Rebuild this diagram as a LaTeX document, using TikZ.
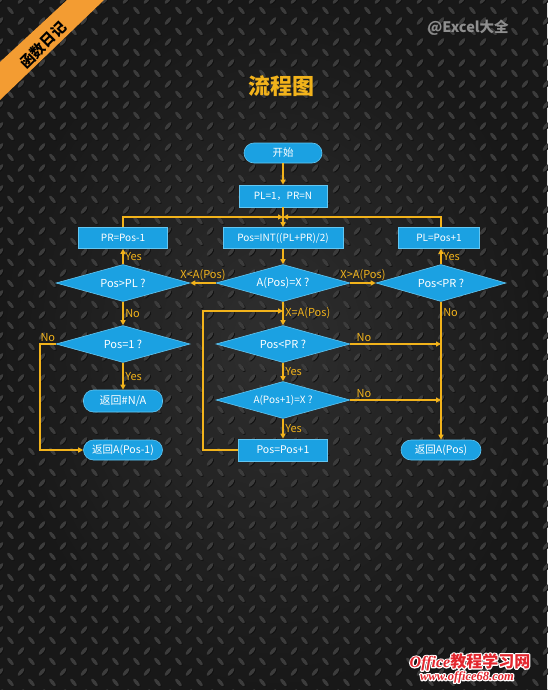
\documentclass[tikz,border=0pt]{standalone}
\usepackage{fontspec}
\setmainfont{Noto Sans CJK SC}
\newfontfamily\wmlatin{Liberation Serif}
\usetikzlibrary{shapes.geometric,arrows.meta,calc}
\definecolor{bgdark}{HTML}{181818}
\definecolor{bgmid}{HTML}{2F2F2F}
\definecolor{platehi}{HTML}{3C3C3C}
\definecolor{plateshade}{HTML}{111111}
\definecolor{flowblue}{HTML}{1BA1E2}
\definecolor{flowedge}{HTML}{62C6F2}
\definecolor{flowline}{HTML}{F2B31B}
\definecolor{bannerorange}{HTML}{F39C32}
\definecolor{wmred}{HTML}{E3262E}
\definecolor{wmgray}{HTML}{8E8E8E}
\newcommand\haloed[1]{\rlap{\special{pdf:literal direct 1 1 1 RG 2.4 w 1 j 1 Tr}#1\special{pdf:literal direct 0 Tr}}#1}

\begin{document}
\begin{tikzpicture}[x=1pt, y=-1pt,
  box/.style={draw=flowedge, line width=0.6pt, fill=flowblue, text=white,
    font=\fontsize{10}{12}\selectfont, inner sep=0pt, minimum height=21pt},
  pill/.style={box, rounded corners=10pt, font=\fontsize{10.5}{12}\selectfont},
  decision/.style={diamond, aspect=3.6, draw=flowedge, line width=0.6pt,
    fill=flowblue, text=white, font=\fontsize{11}{13}\selectfont,
    inner sep=1pt, minimum width=134pt, minimum height=37pt},
  flow/.style={draw=flowline, line width=1.5pt, -{Triangle[length=5pt,width=5pt]}},
  lbl/.style={text=flowline, font=\fontsize{11}{13}\selectfont, inner sep=1.5pt}]
  \useasboundingbox (0,0) rectangle (547,690);
  \shade[inner color=bgmid, outer color=bgdark] (0,0) rectangle (547,690);
  \foreach \i in {0,...,26}
    \foreach \j in {0,...,33} {
      \fill[plateshade, shift={(\i*21+0.8,\j*21+0.8)}, rotate=50] (0,0) ellipse (4.8 and 1.8);
      \fill[platehi, shift={(\i*21,\j*21)}, rotate=50] (0,0) ellipse (4.8 and 1.8);
      \fill[plateshade, shift={(\i*21+11.3,\j*21+11.3)}, rotate=-50] (0,0) ellipse (4.8 and 1.8);
      \fill[platehi, shift={(\i*21+10.5,\j*21+10.5)}, rotate=-50] (0,0) ellipse (4.8 and 1.8);
    }

  \fill[bannerorange] (0,62) -- (67,0) -- (104,0) -- (0,100) -- cycle;
  \node[rotate=45, font=\bfseries\fontsize{14.5}{16}\selectfont, text=black] (banner) at (43,45) {函数日记};
  \node[font=\bfseries\fontsize{14.5}{16}\selectfont, text=wmgray] (excel) at (468,28) {@Excel大全};
  \node[font=\bfseries\fontsize{22}{25}\selectfont, text=flowline] (title) at (281,86) {流程图};

  \coordinate (join) at (283,217);
  \coordinate (noturn) at (40,344);
  \coordinate (loopturn) at (203,311);
  \coordinate (loopin) at (283,311);

  \node[pill, minimum width=78pt, minimum height=20pt] (start) at (283,153) {开始};
  \node[box, minimum width=88pt, minimum height=22pt] (init) at (283,196) {PL=1，PR=N};
  \node[box, minimum width=89pt] (prdec) at (123,238) {PR=Pos-1};
  \node[box, minimum width=120pt] (calc) at (283,238) {Pos=INT((PL+PR)/2)};
  \node[box, minimum width=81pt] (plinc) at (439,238) {PL=Pos+1};
  \node[decision] (gtpl) at (123,283) {Pos>PL ?};
  \node[decision] (check) at (283,283) {A(Pos)=X ?};
  \node[decision, minimum width=130pt] (ltpr) at (441,283) {Pos<PR ?};
  \node[decision] (eqone) at (123,344) {Pos=1 ?};
  \node[decision] (ltprmid) at (283,344) {Pos<PR ?};
  \node[decision, font=\fontsize{10}{12}\selectfont] (nextx) at (283,400) {A(Pos+1)=X ?};
  \node[pill, minimum width=79pt, minimum height=22pt, font=\fontsize{11}{13}\selectfont] (na) at (123,401) {返回\#N/A};
  \node[pill, minimum width=79pt, minimum height=20pt] (retprev) at (123,450) {返回A(Pos-1)};
  \node[box, minimum width=89pt, minimum height=22pt, font=\fontsize{10.5}{12}\selectfont] (posinc) at (283,450) {Pos=Pos+1};
  \node[pill, minimum width=80pt, minimum height=20pt] (retpos) at (441,450) {返回A(Pos)};

  \draw[flow] (start) -- (init);
  \draw[flow] (init) -- (calc);
  \draw[flow] (prdec.north) |- (join);
  \draw[flow] (plinc.north -| ltpr) |- (join);
  \draw[flow] (calc) -- (check);
  \draw[flow] (check.west) -- node[lbl, above] {X<A(Pos)} (gtpl.east);
  \draw[flow] (check.east) -- node[lbl, above] {X>A(Pos)} (ltpr.west);
  \draw[flow] (gtpl) -- node[lbl, right] {Yes} (prdec);
  \draw[flow] (ltpr.north) -- node[lbl, right] {Yes} (ltpr.north |- plinc.south);
  \draw[flow] (gtpl) -- node[lbl, right] {No} (eqone);
  \draw[flow] (eqone) -- node[lbl, right] {Yes} (na);
  \draw[flow] (eqone.west) -- node[lbl, above] {No} (noturn) |- (retprev.west);
  \draw[flow] (check) -- node[lbl, right] {X=A(Pos)} (ltprmid);
  \draw[flow] (posinc.west) -| (loopturn) -- (loopin);
  \draw[flow] (ltprmid.east) -- node[lbl, above, pos=0.15] {No} (ltprmid.east -| retpos);
  \draw[flow] (ltprmid) -- node[lbl, right] {Yes} (nextx);
  \draw[flow] (nextx.east) -- node[lbl, above, pos=0.15] {No} (nextx.east -| retpos);
  \draw[flow] (nextx) -- node[lbl, right] {Yes} (posinc);
  \draw[flow] (ltpr) -- node[lbl, right, pos=0.08] {No} (retpos);

  \node[text=wmred, font=\bfseries\fontsize{16}{18}\selectfont] (officetop) at (470,662) {\haloed{{\wmlatin\itshape Office}教程学习网}};
  \node[text=wmred, font=\wmlatin\bfseries\itshape\fontsize{12.5}{14}\selectfont] (officebot) at (467,677) {\haloed{www.office68.com}};
\end{tikzpicture}
\end{document}
